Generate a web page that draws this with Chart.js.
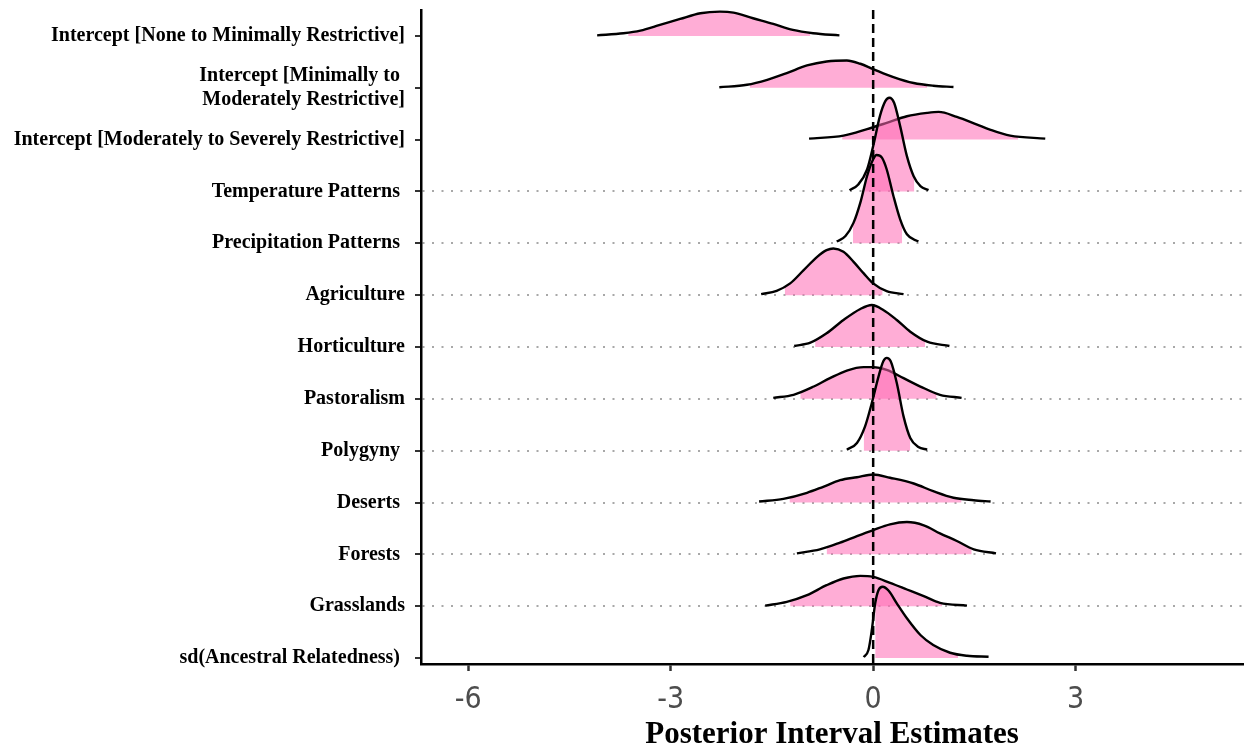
<!DOCTYPE html>
<html>
<head>
<meta charset="utf-8">
<script src="https://cdn.jsdelivr.net/npm/chart.js@4.4.1/dist/chart.umd.min.js"></script>
<style>
  html, body { margin: 0; padding: 0; background: #ffffff; }
  #wrap { width: 1248px; height: 748px; }
</style>
</head>
<body>
<div id="wrap"><canvas id="ridges" width="1248" height="748"></canvas></div>
<script>
// Model parameters, listed from the top row to the bottom row
const parameters = [
  'Intercept [None to Minimally Restrictive]',
  ['Intercept [Minimally to ', 'Moderately Restrictive]'],
  'Intercept [Moderately to Severely Restrictive]',
  'Temperature Patterns ',
  'Precipitation Patterns ',
  'Agriculture',
  'Horticulture',
  'Pastoralism',
  'Polygyny ',
  'Deserts ',
  'Forests ',
  'Grasslands',
  'sd(Ancestral Relatedness) '
];
const xTicks = [-6, -3, 0, 3];

// Posterior density outlines: estimate values and ridge heights (row units)
const xNone = [-4.09, -3.70, -3.45, -3.16, -2.86, -2.56, -2.27, -2.07, -1.78, -1.48, -1.19, -0.89, -0.50];
const dNone = [0.010, 0.052, 0.102, 0.212, 0.328, 0.438, 0.469, 0.450, 0.341, 0.232, 0.116, 0.052, 0.010];

const xMinMod = [-2.28, -1.87, -1.57, -1.28, -0.98, -0.69, -0.39, -0.19, 0.00, 0.30, 0.60, 0.89, 1.19];
const dMinMod = [0.010, 0.058, 0.154, 0.284, 0.430, 0.507, 0.527, 0.463, 0.361, 0.206, 0.091, 0.039, 0.014];

const xModSev = [-0.95, -0.44, -0.09, 0.20, 0.50, 0.80, 0.97, 1.24, 1.54, 1.73, 2.03, 2.55];
const dModSev = [0.019, 0.077, 0.203, 0.322, 0.450, 0.515, 0.534, 0.438, 0.289, 0.193, 0.077, 0.019];

const xTemp = [-0.35, -0.22, -0.09, 0.00, 0.10, 0.18, 0.24, 0.31, 0.40, 0.50, 0.60, 0.70, 0.82];
const dTemp = [0.025, 0.135, 0.424, 0.874, 1.453, 1.742, 1.808, 1.711, 1.260, 0.681, 0.295, 0.102, 0.025];

const xPrecip = [-0.54, -0.41, -0.29, -0.19, -0.09, 0.00, 0.05, 0.13, 0.20, 0.30, 0.40, 0.50, 0.67];
const dPrecip = [0.033, 0.141, 0.399, 0.785, 1.298, 1.621, 1.704, 1.653, 1.428, 0.913, 0.463, 0.174, 0.033];

const xAgri = [-1.66, -1.43, -1.23, -1.03, -0.83, -0.69, -0.59, -0.44, -0.29, -0.14, 0.00, 0.20, 0.45];
const dAgri = [0.019, 0.083, 0.226, 0.482, 0.739, 0.868, 0.901, 0.835, 0.642, 0.419, 0.226, 0.077, 0.019];

const xHorti = [-1.17, -0.93, -0.69, -0.44, -0.19, -0.02, 0.15, 0.35, 0.55, 0.80, 1.13];
const dHorti = [0.019, 0.083, 0.264, 0.521, 0.733, 0.810, 0.714, 0.521, 0.295, 0.102, 0.019];

const xPastoral = [-1.48, -1.18, -0.88, -0.64, -0.39, -0.14, 0.00, 0.20, 0.45, 0.70, 0.99, 1.31];
const dPastoral = [0.019, 0.077, 0.237, 0.399, 0.546, 0.612, 0.612, 0.560, 0.399, 0.237, 0.077, 0.019];

const xPolygyny = [-0.39, -0.24, -0.12, -0.02, 0.08, 0.15, 0.20, 0.26, 0.35, 0.45, 0.55, 0.67, 0.80];
const dPolygyny = [0.019, 0.149, 0.469, 0.920, 1.434, 1.723, 1.789, 1.723, 1.306, 0.662, 0.245, 0.071, 0.019];

const xDeserts = [-1.69, -1.33, -0.98, -0.74, -0.49, -0.24, 0.00, 0.25, 0.60, 0.89, 1.19, 1.49, 1.74];
const dDeserts = [0.019, 0.071, 0.187, 0.303, 0.430, 0.488, 0.540, 0.477, 0.367, 0.218, 0.091, 0.044, 0.019];

const xForests = [-1.13, -0.79, -0.49, -0.24, 0.00, 0.25, 0.50, 0.75, 0.99, 1.24, 1.49, 1.82];
const dForests = [0.019, 0.096, 0.226, 0.353, 0.469, 0.579, 0.623, 0.560, 0.405, 0.257, 0.096, 0.019];

const xGrass = [-1.60, -1.28, -0.98, -0.69, -0.44, -0.19, 0.00, 0.25, 0.50, 0.75, 0.99, 1.39];
const dGrass = [0.010, 0.083, 0.212, 0.405, 0.534, 0.585, 0.565, 0.450, 0.322, 0.193, 0.064, 0.010];

const xSd = [-0.14, -0.07, -0.02, 0.03, 0.08, 0.14, 0.23, 0.35, 0.50, 0.70, 0.89, 1.14, 1.39, 1.71];
const dSd = [0.019, 0.154, 0.540, 1.055, 1.312, 1.376, 1.298, 1.055, 0.766, 0.444, 0.251, 0.102, 0.044, 0.025];

// Credible-interval limits (shaded part of each ridge) and ridge heights at those limits
const shadeLow = [-3.63, -1.83, -0.46, -0.12, -0.30, -1.31, -0.86, -1.08, -0.14, -1.24, -0.69, -1.23, 0.03];
const shadeLowDensity = [0.058, 0.068, 0.077, 0.328, 0.351, 0.145, 0.125, 0.116, 0.347, 0.096, 0.135, 0.106, 1.055];
const shadeHigh = [-0.93, 0.80, 2.15, 0.61, 0.43, 0.14, 0.77, 0.94, 0.55, 1.31, 1.46, 1.02, 1.26];
const shadeHighDensity = [0.058, 0.054, 0.058, 0.285, 0.309, 0.106, 0.116, 0.096, 0.245, 0.068, 0.106, 0.058, 0.077];

const curves = [
  [xNone, dNone], [xMinMod, dMinMod], [xModSev, dModSev], [xTemp, dTemp],
  [xPrecip, dPrecip], [xAgri, dAgri], [xHorti, dHorti], [xPastoral, dPastoral],
  [xPolygyny, dPolygyny], [xDeserts, dDeserts], [xForests, dForests],
  [xGrass, dGrass], [xSd, dSd]
];

// Axis ranges
const xMin = -6.7, xMax = 5.48;
const yMin = 0.5, yMax = 13.115;

const FILL = 'rgba(255, 105, 180, 0.55)';
const nRows = parameters.length;

const datasets = [];
curves.forEach(([xs, ds], i) => {
  const row = i + 1;
  const outline = xs.map((x, k) => ({ x: x, y: row - ds[k] }));
  const lo = shadeLow[i], hi = shadeHigh[i];
  const shaded = [{ x: lo, y: row - shadeLowDensity[i] }]
    .concat(outline.filter(p => p.x > lo && p.x < hi))
    .concat([{ x: hi, y: row - shadeHighDensity[i] }]);
  // shaded interval, filled down to the row's baseline
  datasets.push({
    data: shaded,
    fill: { value: row },
    backgroundColor: FILL,
    borderColor: 'rgba(0,0,0,0)',
    borderWidth: 0,
    pointRadius: 0,
    cubicInterpolationMode: 'monotone',
    order: 2 * (nRows + 1 - row)
  });
  // full density outline
  datasets.push({
    data: outline,
    fill: false,
    borderColor: '#000000',
    borderWidth: 2.4,
    pointRadius: 0,
    cubicInterpolationMode: 'monotone',
    order: 2 * (nRows + 1 - row) - 1
  });
});

// reference line at zero
datasets.push({
  data: [{ x: 0, y: yMin }, { x: 0, y: yMax }],
  fill: false,
  borderColor: '#000000',
  borderWidth: 2.5,
  borderDash: [9, 5],
  pointRadius: 0,
  tension: 0,
  order: 0
});

const serif = '"Liberation Serif", "Times New Roman", "DejaVu Serif", serif';

// keep the plot area flush with the layout padding (no extra room for edge labels)
const noEdgePadding = s => {
  s.paddingTop = 0; s.paddingBottom = 0; s.paddingLeft = 0; s.paddingRight = 0;
};

new Chart(document.getElementById('ridges'), {
  type: 'line',
  data: { datasets: datasets },
  options: {
    responsive: false,
    animation: false,
    devicePixelRatio: 1,
    layout: { padding: { top: 10, right: 5, left: 0, bottom: 0 } },
    plugins: {
      legend: { display: false },
      tooltip: { enabled: false },
      filler: { drawTime: 'beforeDatasetDraw' }
    },
    scales: {
      x: {
        type: 'linear',
        min: xMin,
        max: xMax,
        afterBuildTicks: s => { s.ticks = xTicks.map(v => ({ value: v })); },
        afterFit: s => { s.height = 84; noEdgePadding(s); },
        grid: {
          drawOnChartArea: false,
          drawTicks: true,
          tickLength: 7,
          tickWidth: 2.5,
          tickColor: '#333333',
          color: '#333333'
        },
        border: { display: true, color: '#000000', width: 2.5 },
        ticks: {
          color: '#4d4d4d',
          padding: 11,
          maxRotation: 0,
          autoSkip: false,
          font: { family: '"Liberation Sans Narrow", "DejaVu Sans Condensed", "Liberation Sans", sans-serif', size: 30 }
        },
        title: {
          display: true,
          text: 'Posterior Interval Estimates',
          color: '#000000',
          padding: { top: 0, bottom: -2 },
          font: { family: serif, weight: 'bold', size: 31, lineHeight: 1 }
        }
      },
      y: {
        type: 'linear',
        reverse: true,
        min: yMin,
        max: yMax,
        afterBuildTicks: s => { s.ticks = parameters.map((_, i) => ({ value: i + 1 })); },
        afterFit: s => { s.width = 421; noEdgePadding(s); },
        grid: {
          drawOnChartArea: true,
          color: c => (c.tick && c.tick.value >= 4 && c.tick.value <= 12) ? '#a8a8a8' : 'rgba(0,0,0,0)',
          lineWidth: 2,
          tickLength: 6,
          tickWidth: 2,
          tickColor: '#333333'
        },
        border: { display: true, color: '#000000', width: 2.5, dash: [2, 7.5] },
        ticks: {
          color: '#000000',
          padding: 10,
          autoSkip: false,
          callback: v => parameters[Math.round(v) - 1] || '',
          font: { family: serif, weight: 'bold', size: 20, lineHeight: 1.22 }
        }
      }
    }
  }
});
</script>
</body>
</html>
